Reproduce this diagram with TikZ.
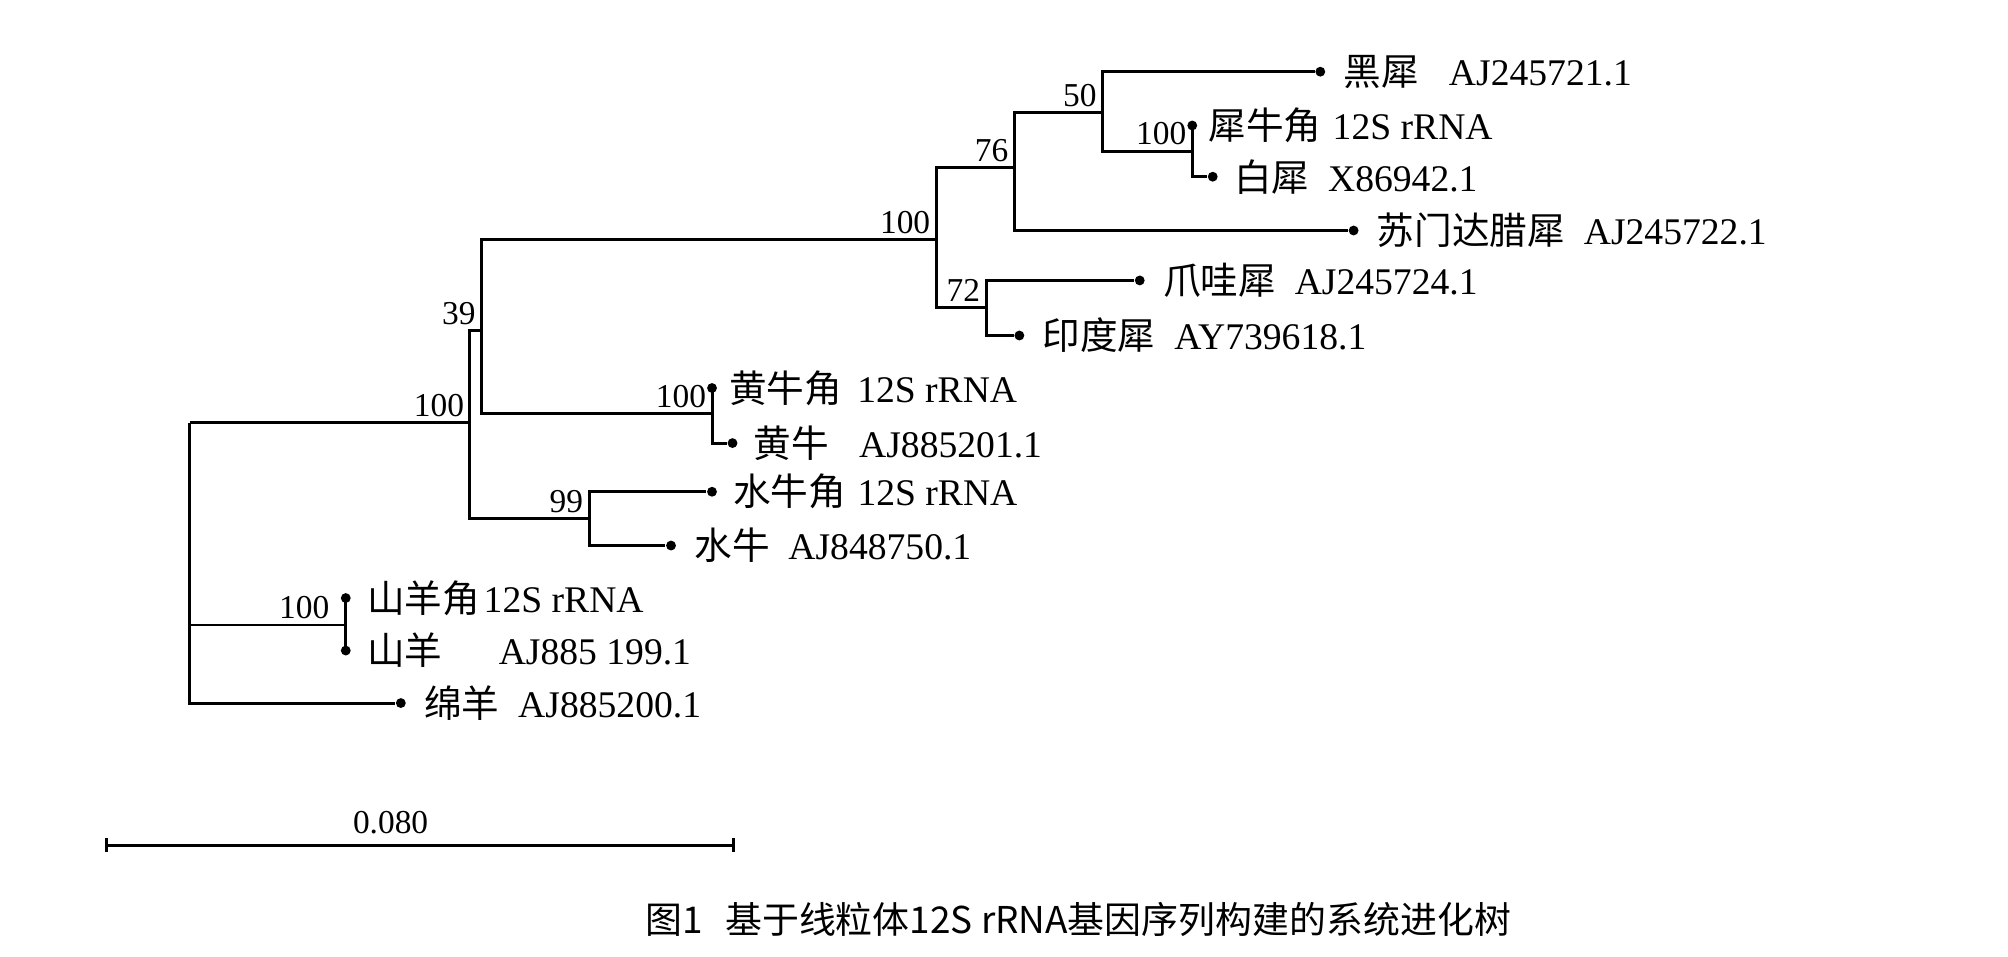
\documentclass[tikz,border=0pt]{standalone}
\usepackage{fontspec}
\setmainfont{Liberation Serif}
\newfontfamily\zhfont{Noto Sans CJK SC}
\usetikzlibrary{arrows.meta,positioning,calc}
\newcommand{\zh}[1]{{\zhfont #1}}
\tikzset{
  branch/.style={line width=0.85pt, line join=miter},
  thinbranch/.style={line width=0.45pt},
  leafpt/.style={circle, fill=black, inner sep=0pt, minimum size=2.8pt},
  boot/.style={font=\fontsize{9.5}{10}\selectfont, anchor=south east, inner sep=1.5pt},
  taxon/.style={font=\fontsize{10.7}{12}\selectfont, anchor=west, inner sep=0pt},
}

\begin{document}
\begin{tikzpicture}[x=0.012806cm, y=-0.012806cm]
    \useasboundingbox (0,0) rectangle (1568,747);
    % internal nodes of the tree
    \coordinate (root) at (148,330);
    \coordinate (nA)   at (367,330);
    \coordinate (n39)  at (376,258);
    \coordinate (nRh)  at (731,187);
    \coordinate (n76)  at (792,131);
    \coordinate (n50)  at (861,88);
    \coordinate (nWR)  at (931,118);
    \coordinate (n72)  at (770,240);
    \coordinate (nCa)  at (556,323);
    \coordinate (nBu)  at (460,405);
    \coordinate (nGo)  at (270,488);
    % leaves with their labels
    \foreach \nm/\x/\y/\gap/\lab in {
        hei/1031/56/0.17/{\zh{黑犀}\hspace{0.8em}AJ245721.1},
        xnj/931/98/0.1/{\zh{犀牛角}\hspace{0.3em}12S rRNA},
        bai/947/138/0.15/{\zh{白犀}\hspace{0.5em}X86942.1},
        sumen/1057/180/0.17/{\zh{苏门达腊犀}\hspace{0.5em}AJ245722.1},
        zhaowa/890/219/0.17/{\zh{爪哇犀}\hspace{0.5em}AJ245724.1},
        yindu/796/262/0.17/{\zh{印度犀}\hspace{0.5em}AY739618.1},
        hnj/556/303/0.11/{\zh{黄牛角}\hspace{0.4em}12S rRNA},
        huang/572/346/0.15/{\zh{黄牛}\hspace{0.8em}AJ885201.1},
        snj/556/384/0.15/{\zh{水牛角}\hspace{0.3em}12S rRNA},
        shui/524/426/0.17/{\zh{水牛}\hspace{0.5em}AJ848750.1},
        synj/270/467/0.15/{\zh{山羊角}\hspace{0.1em}12S rRNA},
        shan/270/508/0.15/{\zh{山羊}\hspace{1.5em}AJ885 199.1},
        mian/313/549/0.17/{\zh{绵羊}\hspace{0.5em}AJ885200.1}} {
      \node[leafpt] (\nm) at (\x,\y) {};
      \node[taxon, right=\gap cm of \nm] (\nm-lab) {\lab};
    }
    % branches
    \draw[branch] (root) -- (nA);
    \draw[branch] (root) |- (mian);
    \draw[thinbranch] (root |- nGo) -- (nGo);
    \draw[branch] (nGo) |- (synj);
    \draw[branch] (nGo) |- (shan);
    \draw[branch] (nA) |- (n39);
    \draw[branch] (nA) |- (nBu);
    \draw[branch] (n39) |- (nRh);
    \draw[branch] (n39) |- (nCa);
    \draw[branch] (nRh) |- (n76);
    \draw[branch] (nRh) |- (n72);
    \draw[branch] (n76) |- (n50);
    \draw[branch] (n76) |- (sumen);
    \draw[branch] (n50) |- (hei);
    \draw[branch] (n50) |- (nWR);
    \draw[branch] (nWR) |- (xnj);
    \draw[branch] (nWR) |- (bai);
    \draw[branch] (n72) |- (zhaowa);
    \draw[branch] (n72) |- (yindu);
    \draw[branch] (nCa) |- (hnj);
    \draw[branch] (nCa) |- (huang);
    \draw[branch] (nBu) |- (snj);
    \draw[branch] (nBu) |- (shui);
    % bootstrap values
    \node[boot] (bA)  at (nA)  {100};
    \node[boot] (b39) at (n39) {39};
    \node[boot] (bRh) at (nRh) {100};
    \node[boot] (b76) at (n76) {76};
    \node[boot] (b50) at (n50) {50};
    \node[boot] (bWR) at (nWR) {100};
    \node[boot] (b72) at (n72) {72};
    \node[boot] (bCa) at (nCa) {100};
    \node[boot] (bBu) at (nBu) {99};
    \node[boot, xshift=-3pt] (bGo) at (nGo) {100};
    % scale bar
    \coordinate (sbL) at (82,660);
    \coordinate (sbR) at (574,660);
    \draw[branch, {Bar[width=4pt]}-{Bar[width=4pt]}] (sbL) -- (sbR);
    \node[font=\fontsize{9.5}{10}\selectfont, anchor=south, inner sep=2pt] (sblab) at (305,657) {0.080};
    % caption
    \node[font=\zhfont\fontsize{10.5}{13}\selectfont] (caption) at (842,718)
      {图1\hspace{0.6em}基于线粒体12S rRNA基因序列构建的系统进化树};
\end{tikzpicture}
\end{document}
